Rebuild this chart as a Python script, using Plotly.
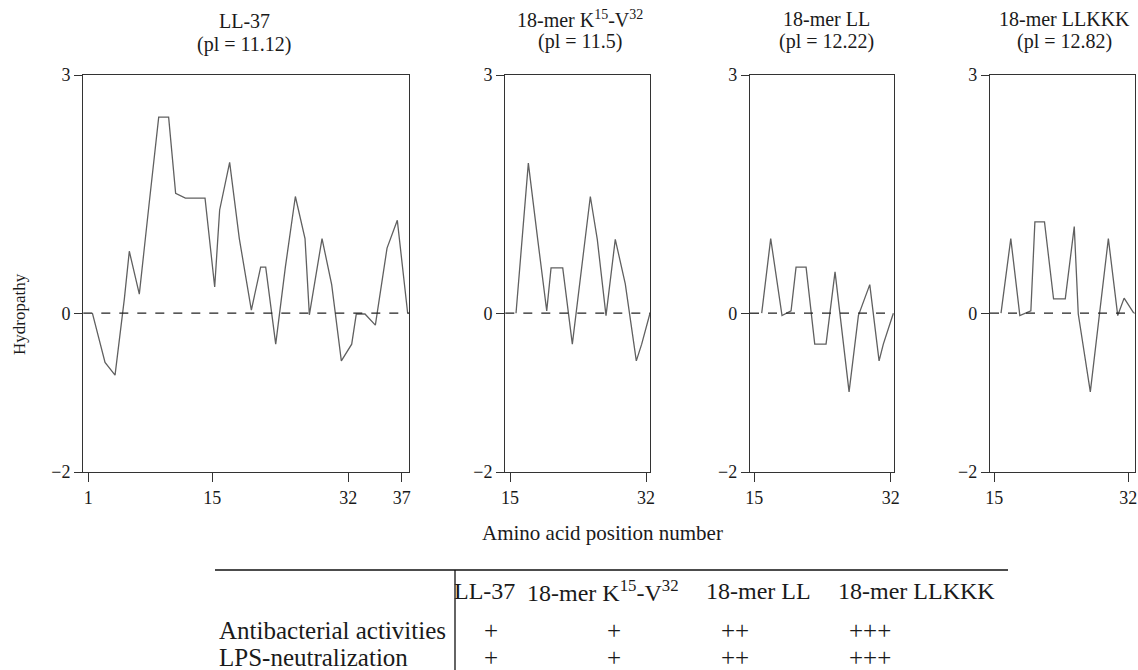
import plotly.graph_objects as go

# ---------------- data ----------------
ll37_pos = [1.46, 2.89, 4.02, 5.07, 5.63, 6.76, 7.85, 8.95, 10.07, 10.86, 11.96, 13.08,
            14.18, 15.27, 15.83, 16.96, 18.05, 19.41, 20.46, 21.03, 22.16, 23.25, 24.38,
            25.47, 25.96, 27.39, 28.48, 29.57, 30.74, 31.26, 32.24, 33.41, 34.73, 35.89, 37.06]
ll37_hyd = [0, -0.62, -0.78, 0.18, 0.78, 0.24, 1.36, 2.47, 2.47, 1.51, 1.45, 1.45,
            1.45, 0.33, 1.30, 1.90, 0.94, 0.04, 0.58, 0.58, -0.39, 0.58, 1.47,
            0.94, -0.02, 0.94, 0.36, -0.60, -0.39, -0.01, -0.01, -0.15, 0.82, 1.17, 0]

k15_pos = [15.75, 17.29, 18.46, 19.59, 20.13, 21.59, 22.79, 23.91, 25.04, 25.91, 27.0,
           28.16, 29.41, 30.79, 31.46, 32.5]
k15_hyd = [0, 1.89, 0.93, 0.03, 0.57, 0.57, -0.39, 0.57, 1.47, 0.93, -0.03,
           0.93, 0.37, -0.60, -0.39, 0]

ll_pos = [15.92, 17.04, 18.45, 19.58, 20.2, 21.45, 22.53, 23.94, 25.06, 26.81, 27.97,
          29.39, 30.55, 31.08, 32.33]
ll_hyd = [0, 0.94, -0.03, 0.03, 0.58, 0.58, -0.39, -0.39, 0.52, -0.99, -0.03,
          0.36, -0.60, -0.39, 0]

llkkk_pos = [15.85, 17.09, 18.24, 19.64, 20.15, 21.37, 22.52, 24.01, 25.15, 25.66, 27.19,
             28.34, 29.48, 30.67, 31.48, 32.71]
llkkk_hyd = [0, 0.94, -0.03, 0.03, 1.15, 1.15, 0.18, 0.18, 1.09, -0.01, -0.99,
             -0.01, 0.94, -0.03, 0.19, 0]

panel_names = ["LL-37", "18-mer K<sup>15</sup>-V<sup>32</sup>", "18-mer LL", "18-mer LLKKK"]
panel_pi = ["(pl = 11.12)", "(pl = 11.5)", "(pl = 12.22)", "(pl = 12.82)"]
x_tick_text = [["1", "15", "32", "37"], ["15", "32"], ["15", "32"], ["15", "32"]]
y_tick_vals = [-2, 0, 3]
y_tick_text = ["\u22122", "0", "3"]

table_cols = ["LL-37", "18-mer K<sup>15</sup>-V<sup>32</sup>", "18-mer LL", "18-mer LLKKK"]
table_rows = ["Antibacterial activities", "LPS-neutralization"]
antibacterial = ["+", "+", "++", "+++"]
lps_neutral = ["+", "+", "++", "+++"]

# ---------------- layout geometry (pixels) ----------------
W, H = 1138, 670
FONT = "Liberation Serif"
TXT = "#1a1a1a"
AX = "#333333"


def px(x):
    return x / W


def py(y):
    return 1 - y / H


panel_px = [(83.3, 409.0), (505.3, 650.0), (750.0, 894.0), (990.0, 1134.5)]
x_ranges = [[0.435, 37.21], [14.41, 32.5], [14.46, 32.41], [14.45, 32.8]]
x_tick_pos = [[1, 15, 30.36, 36.39], [15, 32], [15, 32], [15, 32]]
y_top, y_bot = 75.0, 472.0
title_y = [(21, 44), (19, 42), (19, 42), (19, 42)]
title_cx = [244, 580, 826, 1064]

series = [(ll37_pos, ll37_hyd), (k15_pos, k15_hyd), (ll_pos, ll_hyd), (llkkk_pos, llkkk_hyd)]

fig = go.Figure()
layout = dict(
    width=W, height=H,
    margin=dict(l=0, r=0, t=0, b=0, pad=0, autoexpand=False),
    paper_bgcolor="white", plot_bgcolor="white",
    showlegend=False,
    font=dict(family=FONT, color=TXT, size=17),
)
shapes = []
annotations = []

for i, ((xs, ys), (l, r)) in enumerate(zip(series, panel_px)):
    k = "" if i == 0 else str(i + 1)
    fig.add_trace(go.Scatter(
        x=xs, y=ys, mode="lines",
        line=dict(color="#606060", width=1.3),
        xaxis="x" + k, yaxis="y" + k, hoverinfo="skip",
    ))
    layout["xaxis" + k] = dict(
        domain=[px(l), px(r)], range=x_ranges[i], anchor="y" + k,
        showgrid=False, zeroline=False, showline=True, mirror=True,
        linecolor=AX, linewidth=1.4,
        ticks="outside", ticklen=9, tickwidth=1.2, tickcolor=AX,
        tickvals=x_tick_pos[i], ticktext=x_tick_text[i],
        tickfont=dict(family=FONT, size=18, color=TXT),
    )
    layout["yaxis" + k] = dict(
        domain=[py(y_bot), py(y_top)], range=[-2, 3], anchor="x" + k,
        showgrid=False, zeroline=False, showline=True, mirror=True,
        linecolor=AX, linewidth=1.4,
        ticks="outside", ticklen=8, tickwidth=1.2, tickcolor=AX,
        tickvals=y_tick_vals, ticktext=y_tick_text,
        tickfont=dict(family=FONT, size=18, color=TXT),
    )
    # dashed zero line
    shapes.append(dict(type="line", xref="x" + k + " domain", yref="y" + k,
                       x0=0, x1=1, y0=0, y1=0,
                       line=dict(color="#222222", width=1.3, dash="dash")))
    # titles
    annotations.append(dict(text=panel_names[i], x=px(title_cx[i]), y=py(title_y[i][0]),
                            xref="paper", yref="paper", showarrow=False,
                            xanchor="center", yanchor="middle",
                            font=dict(family=FONT, size=20, color=TXT)))
    annotations.append(dict(text=panel_pi[i], x=px(title_cx[i]), y=py(title_y[i][1]),
                            xref="paper", yref="paper", showarrow=False,
                            xanchor="center", yanchor="middle",
                            font=dict(family=FONT, size=20, color=TXT)))

# axis titles
annotations.append(dict(text="Hydropathy", x=px(19), y=py(314), xref="paper", yref="paper",
                        showarrow=False, textangle=-90, xanchor="center", yanchor="middle",
                        font=dict(family=FONT, size=17, color=TXT)))
annotations.append(dict(text="Amino acid position number", x=px(602), y=py(533),
                        xref="paper", yref="paper", showarrow=False,
                        xanchor="center", yanchor="middle",
                        font=dict(family=FONT, size=21, color=TXT)))

# ---------------- table ----------------
tbl_left, tbl_right, tbl_top, tbl_vx = 215, 1008, 570, 455
shapes.append(dict(type="line", xref="paper", yref="paper",
                   x0=px(tbl_left), x1=px(tbl_right), y0=py(tbl_top), y1=py(tbl_top),
                   line=dict(color="#111111", width=1.6)))
shapes.append(dict(type="line", xref="paper", yref="paper",
                   x0=px(tbl_vx), x1=px(tbl_vx), y0=py(tbl_top), y1=py(670),
                   line=dict(color="#111111", width=1.3)))

head_cx = [484, 603, 758, 916]
val_cx = [491, 614, 735, 870]
row_y = [630, 657]
TF_HEAD = 24
TF = 25
for name, cx in zip(table_cols, head_cx):
    annotations.append(dict(text=name, x=px(cx), y=py(591), xref="paper", yref="paper",
                            showarrow=False, xanchor="center", yanchor="middle",
                            font=dict(family=FONT, size=TF_HEAD, color=TXT)))
for rname, vals, ry in zip(table_rows, [antibacterial, lps_neutral], row_y):
    annotations.append(dict(text=rname, x=px(217), y=py(ry), xref="paper", yref="paper",
                            showarrow=False, xanchor="left", yanchor="middle",
                            font=dict(family=FONT, size=TF, color=TXT)))
    for v, cx in zip(vals, val_cx):
        annotations.append(dict(text=v, x=px(cx), y=py(ry), xref="paper", yref="paper",
                                showarrow=False, xanchor="center", yanchor="middle",
                                font=dict(family=FONT, size=TF, color=TXT)))

layout["shapes"] = shapes
layout["annotations"] = annotations
fig.update_layout(**layout)
fig.write_html(
    "out.html",
    config={"displayModeBar": False},
    post_script="document.body.style.margin='0';document.body.style.padding='0';"
                "document.documentElement.style.overflow='hidden';",
)
